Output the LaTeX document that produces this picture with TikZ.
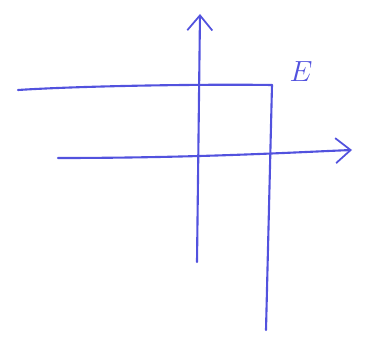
\documentclass[tikz,border=0pt]{standalone}
\usepackage{tikz}
\usepackage{xcolor}
\usetikzlibrary{arrows.meta, positioning}
\definecolor{penblue}{RGB}{82,82,222}
\tikzstyle{stroke} = [draw=penblue, line width=1.8pt, line cap=round, line join=round]
\tikzstyle{axis}   = [stroke, -{Straight Barb[length=0.45cm, width=0.75cm, line width=1.5pt]}]
\tikzstyle{label}  = [text=penblue, font=\fontsize{27}{29}\selectfont]

\begin{document}
\begin{tikzpicture}[x=0.03cm, y=-0.03cm]

\useasboundingbox (0,0) rectangle (366,349);

\coordinate (vbot)  at (197,262);
\coordinate (vtop)  at (200,14);
\coordinate (hleft) at (58,158);
\coordinate (hright)at (352,150);
\coordinate (lleft) at (18,90);
\coordinate (corner)at (272,85);
\coordinate (lbot)  at (266,330);
\node (E) [label] at (301,72) {$E$};

\draw [axis] (vbot) -- (vtop);
\draw [axis] (hleft) .. controls (200,158) and (300,152) .. (hright);
\draw [stroke] (lleft) .. controls (80,86) and (200,84) .. (corner);
\draw [stroke] (corner) -- (lbot);

\end{tikzpicture}
\end{document}
